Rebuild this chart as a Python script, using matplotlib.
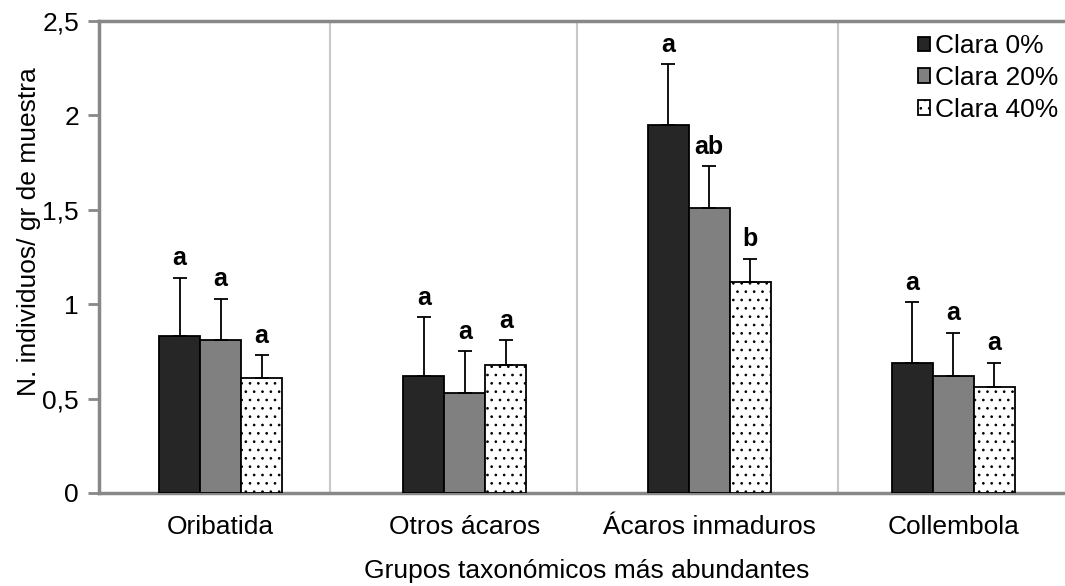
import numpy as np
import matplotlib
matplotlib.use('Agg')
import matplotlib.pyplot as plt

## Data

grupos = ['Oribatida', 'Otros ácaros', 'Ácaros inmaduros', 'Collembola']
series = ['Clara 0%', 'Clara 20%', 'Clara 40%']

media_0 = [0.83, 0.62, 1.95, 0.69]
media_20 = [0.81, 0.53, 1.51, 0.62]
media_40 = [0.61, 0.68, 1.12, 0.56]

err_0 = [0.31, 0.31, 0.32, 0.32]
err_20 = [0.22, 0.22, 0.22, 0.23]
err_40 = [0.12, 0.13, 0.12, 0.13]

letras_0 = ['a', 'a', 'a', 'a']
letras_20 = ['a', 'a', 'ab', 'a']
letras_40 = ['a', 'a', 'b', 'a']

yticks = [0, 0.5, 1, 1.5, 2, 2.5]
ytick_labels = ['0', '0,5', '1', '1,5', '2', '2,5']

## Figure

plt.rcParams['font.family'] = ['Liberation Sans', 'DejaVu Sans']
plt.rcParams['hatch.linewidth'] = 0.7
fs = 19

fig = plt.figure(figsize=(10.65, 5.86), dpi=100)
W, H = 1065, 586
# axes run slightly past the right edge of the picture, as in the original
ax = fig.add_axes([98.5 / W, 93 / H, 977 / W, 472 / H])

x = np.arange(len(grupos))
w = 0.168

medias = [media_0, media_20, media_40]
errs = [err_0, err_20, err_40]
letras = [letras_0, letras_20, letras_40]
colores = ['#262626', '#808080', 'white']
hatches = [None, None, '..']

for i in range(3):
    pos = x + (i - 1) * w
    ax.bar(pos, medias[i], w, color=colores[i], edgecolor='black', linewidth=1.3,
           hatch=hatches[i], label=series[i], zorder=3)
    ax.errorbar(pos, medias[i], yerr=[np.zeros(4), errs[i]], fmt='none',
                ecolor='black', elinewidth=1.3, capsize=4.8, capthick=1.3, zorder=4)
    for j in range(4):
        ax.annotate(letras[i][j], (pos[j], medias[i][j] + errs[i][j]),
                    xytext=(0, 9), textcoords='offset points', ha='center',
                    va='baseline', fontsize=18, fontweight='bold')

# light grey separators between groups
for s in [0.449, 1.461, 2.527]:
    ax.axvline(s, color='#c8c8c8', linewidth=1.5, zorder=1)

ax.set_xlim(-0.5, 3.5)
ax.set_ylim(0, 2.5)
ax.set_yticks(yticks)
ax.set_yticklabels(ytick_labels, fontsize=fs)
ax.set_xticks(x)
ax.set_xticklabels(grupos, fontsize=fs)
ax.tick_params(axis='x', length=0, pad=16)
ax.tick_params(axis='y', length=8, width=2, color='#888888', pad=6)

for side in ['left', 'bottom', 'top']:
    ax.spines[side].set_color('#888888')
    ax.spines[side].set_linewidth(2.5)
ax.spines['right'].set_visible(False)

ax.set_xlabel('Grupos taxonómicos más abundantes', fontsize=fs, labelpad=14)
ax.set_ylabel('N. individuos/ gr de muestra', fontsize=fs)
ax.yaxis.set_label_coords(-0.059, 0.553)

leg = ax.legend(loc='upper left', bbox_to_anchor=(918 / W, 1 - 34 / H),
                bbox_transform=fig.transFigure, frameon=False, fontsize=fs,
                handlelength=0.45, handleheight=0.45, handletextpad=0.2,
                labelspacing=0.3, borderpad=0, borderaxespad=0)

fig.savefig('out.png', dpi=100)
